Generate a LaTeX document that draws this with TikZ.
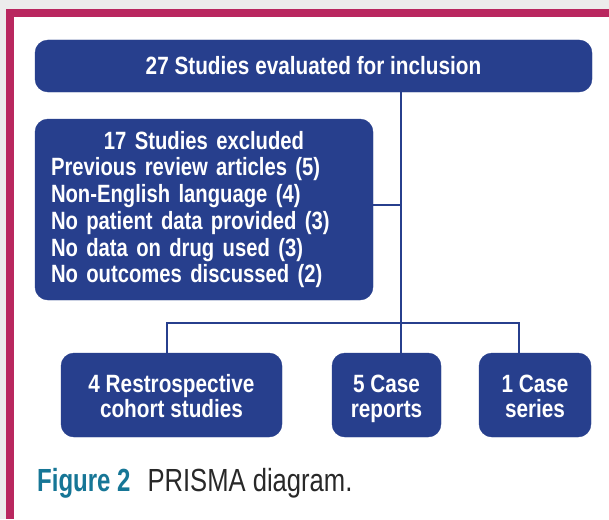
\documentclass[tikz,border=0pt]{standalone}
\usepackage{fontspec}
\setmainfont{Liberation Sans}[FakeStretch=0.83]
\newfontfamily\exclfont{Liberation Sans}[FakeStretch=0.81]
\newfontfamily\capbf{Liberation Sans}[FakeStretch=0.75]
\newfontfamily\capreg{Liberation Sans}[FakeStretch=0.8]
\definecolor{boxblue}{RGB}{39,63,141}
\definecolor{framemag}{RGB}{185,39,95}
\definecolor{bggray}{RGB}{236,236,236}
\definecolor{capteal}{RGB}{22,118,150}
\definecolor{captext}{RGB}{40,40,40}
\tikzset{
  flowbox/.style={draw=boxblue, fill=boxblue, rounded corners=13pt, text=white,
    font=\bfseries\fontsize{25}{25}\selectfont, inner sep=0pt, align=center},
  link/.style={draw=boxblue, line width=2pt}
}
\begin{document}
\begin{tikzpicture}[x=1pt,y=-1pt]
\useasboundingbox (0,0) rectangle (609,519);
% background and frame
\fill[bggray] (0,0) rectangle (609,519);
\fill[white] (14,17) rectangle (609,519);
\fill[framemag] (6,9) rectangle (609,17);
\fill[framemag] (6,9) rectangle (14,519);
% nodes
\node[flowbox, minimum width=557pt, minimum height=52pt] (top) at (313.5,66) {27 Studies evaluated for inclusion};
\node[flowbox, minimum width=338pt, minimum height=181pt, text width=306pt, inner xsep=16pt, align=left,
  font=\exclfont\bfseries\fontsize{25}{26.7}\selectfont] (excl) at (204,209.5)
  {\makebox[306pt]{17 Studies excluded}\\
   Previous review articles (5)\\
   Non-English language (4)\\
   No patient data provided (3)\\
   No data on drug used (3)\\
   No outcomes discussed (2)};
\node[flowbox, minimum width=221pt, minimum height=84pt] (b1) at (171.5,395) {\rule{0pt}{25pt}4 Restrospective\\cohort studies\vphantom{p}};
\node[flowbox, minimum width=109pt, minimum height=84pt] (b2) at (386.5,395) {\rule{0pt}{25pt}5 Case\\reports};
\node[flowbox, minimum width=112pt, minimum height=84pt] (b3) at (535,395) {\rule{0pt}{25pt}1 Case\\series\vphantom{p}};
% connectors
\coordinate (j) at (401,322.5);
\coordinate (jl) at (167,322.5);
\coordinate (jr) at (519,322.5);
\coordinate (je) at (401,205);
\draw[link] (top.south -| j) -- (j);
\draw[link] (excl.east |- je) -- (je);
\draw[link] (jl |- b1.north) -- (jl) -- (jr) -- (jr |- b3.north);
\draw[link] (j) -- (j |- b2.north);
% caption
\node[anchor=base west, inner sep=0pt] (cap) at (37,491)
  {{\capbf\bfseries\fontsize{32}{34}\selectfont\color{capteal}Figure 2}\hspace{17pt}{\capreg\fontsize{32}{34}\selectfont\color{captext}PRISMA diagram.}};
\end{tikzpicture}
\end{document}
